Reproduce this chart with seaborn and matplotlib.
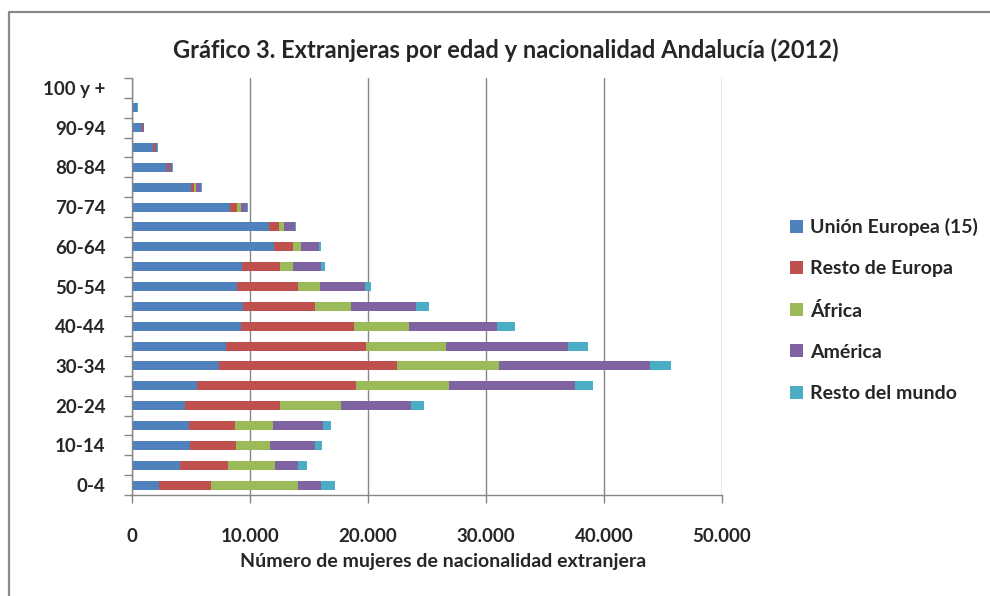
import matplotlib
matplotlib.use("Agg")
import matplotlib.pyplot as plt
import seaborn as sns
import numpy as np
import pandas as pd
from matplotlib.patches import Patch
from matplotlib.lines import Line2D
from matplotlib.ticker import FixedLocator

# ---------------- data ----------------
ages = ['0-4', '5-9', '10-14', '15-19', '20-24', '25-29', '30-34', '35-39',
        '40-44', '45-49', '50-54', '55-59', '60-64', '65-69', '70-74', '75-79',
        '80-84', '85-89', '90-94', '95-99', '100 y +']
series_names = ['Unión Europea (15)', 'Resto de Europa', 'África', 'América', 'Resto del mundo']
ue15 = [2290, 4050, 4950, 4840, 4500, 5490, 7360, 7980, 9200, 9400, 8860,
        9280, 12000, 11600, 8290, 5040, 3000, 1780, 820, 420, 60]
resto_europa = [4390, 4050, 3900, 3900, 8065, 13500, 15110, 11890, 9590, 6110, 5235,
                3255, 1640, 850, 566, 225, 113, 170, 110, 20, 5]
africa = [7410, 4020, 2830, 3170, 5120, 7840, 8600, 6735, 4670, 3030, 1840,
          1100, 650, 425, 340, 200, 57, 28, 20, 5, 2]
america = [1930, 1980, 3820, 4245, 5970, 10750, 12820, 10360, 7500, 5550, 3820,
           2405, 1560, 905, 566, 370, 254, 170, 60, 20, 10]
resto_mundo = [1220, 765, 620, 735, 1075, 1530, 1755, 1700, 1530, 1100, 540,
               340, 200, 85, 85, 85, 57, 56, 30, 30, 30]
x_ticks = [0, 10000, 20000, 30000, 40000, 50000]
x_tick_labels = ['0', '10.000', '20.000', '30.000', '40.000', '50.000']
title = 'Gráfico 3. Extranjeras por edad y nacionalidad Andalucía (2012)'
x_label = 'Número de mujeres de nacionalidad extranjera'

colors = ['#4F81BD', '#C0504D', '#9BBB59', '#8064A2', '#4BACC6']

# ---------------- style ----------------
sns.set_style("white")
plt.rcParams['font.family'] = ['Lato', 'DejaVu Sans']

fig = plt.figure(figsize=(9.9, 5.96), dpi=100)
ax = fig.add_axes([132/990, 1 - 495/596, (722 - 132)/990, (495 - 78)/596])

df = pd.DataFrame({'age': ages, 's0': ue15, 's1': resto_europa, 's2': africa,
                   's3': america, 's4': resto_mundo})
cols = ['s0', 's1', 's2', 's3', 's4']
cum = df[cols].cumsum(axis=1)
order = ages[::-1]

for i in range(4, -1, -1):
    sns.barplot(x=cum[cols[i]].values, y=df['age'].values, order=order,
                orient='h', color=colors[i], saturation=1, width=0.45,
                linewidth=0, ax=ax, errorbar=None)

ax.set_xlim(0, 50000)
ax.set_ylim(len(ages) - 0.5, -0.5)

gray = '#868686'
ax.set_xticks(x_ticks)
ax.set_xticklabels(x_tick_labels)
ax.grid(axis='x', color=gray, lw=1)
ax.grid(axis='y', visible=False)
ax.set_axisbelow(True)

# y ticks: labels on every other category, tick marks at boundaries
ylabels = [lab if (len(ages) - 1 - k) % 2 == 0 else '' for k, lab in enumerate(order)]
ax.set_yticks(range(len(order)))
ax.set_yticklabels(ylabels)
ax.yaxis.set_minor_locator(FixedLocator(np.arange(-0.5, len(order), 1.0)))
ax.tick_params(axis='y', which='major', length=0, pad=19, labelsize=13.5)
ax.tick_params(axis='y', which='minor', length=6, width=1, color=gray, left=True)
ax.tick_params(axis='x', which='major', length=6, width=1, color=gray, bottom=True,
               pad=18, labelsize=13.5)
for lab in ax.get_xticklabels() + ax.get_yticklabels():
    lab.set_fontweight('bold')

ax.set_ylabel('')
ax.set_xlabel('')
fig.text(443/990, 1 - 562/596, x_label, ha='center', va='center',
         fontsize=14, fontweight='bold')

for s in ['top', 'right']:
    ax.spines[s].set_visible(False)
for s in ['left', 'bottom']:
    ax.spines[s].set_color(gray)
    ax.spines[s].set_linewidth(1)

fig.text(506/990, 1 - 50/596, title, ha='center', va='center',
         fontsize=17, fontweight='bold')

handles = [Patch(facecolor=c, edgecolor='none', label=n) for c, n in zip(colors, series_names)]
leg = fig.legend(handles=handles, loc='upper left', bbox_to_anchor=(790/990, 1 - 218/596),
                 frameon=False, fontsize=14, handlelength=0.65, handleheight=0.65,
                 handletextpad=0.4, labelspacing=1.245, borderpad=0, borderaxespad=0)
for t in leg.get_texts():
    t.set_fontweight('bold')

# outer chart frame
fig.add_artist(Line2D([9/990, 9/990, 1.0], [0, 1 - 12/596, 1 - 12/596],
                      transform=fig.transFigure, color='#8a8a8a', lw=1.6))

fig.savefig('out.png', dpi=100)
